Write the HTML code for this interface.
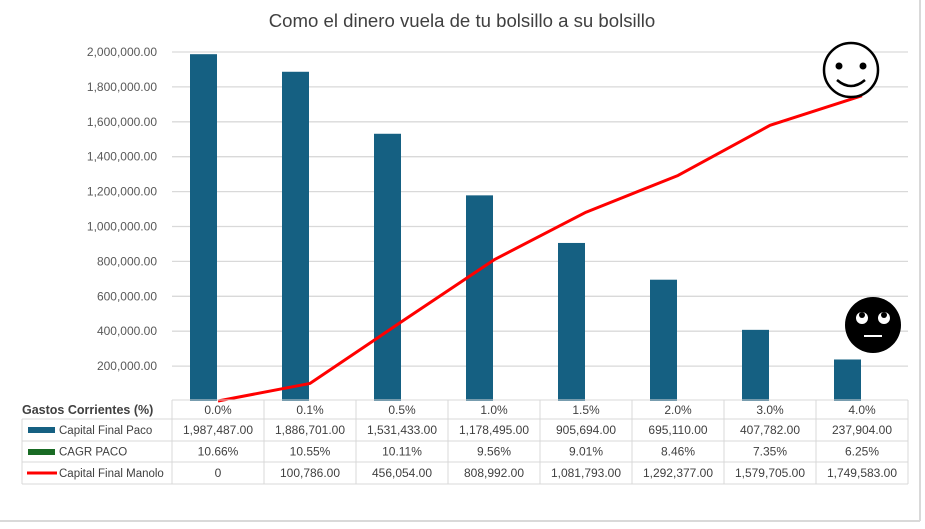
<!DOCTYPE html>
<html><head><meta charset="utf-8"><style>
body{margin:0;background:#fff;font-family:"Liberation Sans",sans-serif}
svg text{font-family:"Liberation Sans",sans-serif}
</style></head><body>
<svg id="c" width="925" height="524" xmlns="http://www.w3.org/2000/svg">
<rect x="0" y="0" width="925" height="524" fill="#fff"/>
<line x1="920" y1="0" x2="920" y2="521" stroke="#d9d9d9" stroke-width="2"/>
<line x1="0" y1="521" x2="920" y2="521" stroke="#d9d9d9" stroke-width="2"/>
<text x="462" y="27" text-anchor="middle" font-size="18.6" fill="#404040">Como el dinero vuela de tu bolsillo a su bolsillo</text>
<g id="grid"></g><g id="bars"></g><g id="line"></g><g id="table"></g>
<g>
<circle cx="851" cy="70" r="27" fill="#fff" stroke="#000" stroke-width="2.5"/>
<circle cx="839" cy="66" r="3.5" fill="#000"/><circle cx="863" cy="66" r="3.5" fill="#000"/>
<path d="M837 80 Q851 92 865 80" fill="none" stroke="#000" stroke-width="2.5"/>
</g>
<g>
<circle cx="873" cy="325" r="28" fill="#000"/>
<circle cx="862" cy="318" r="6" fill="#fff"/><circle cx="884" cy="318" r="6" fill="#fff"/>
<circle cx="862" cy="315" r="3" fill="#000"/><circle cx="884" cy="315" r="3" fill="#000"/>
<line x1="864" y1="336" x2="882" y2="336" stroke="#fff" stroke-width="2"/>
</g>
</svg>
<script>
const categories=["0.0%","0.1%","0.5%","1.0%","1.5%","2.0%","3.0%","4.0%"];
const paco=[1987487,1886701,1531433,1178495,905694,695110,407782,237904];
const cagr=["10.66%","10.55%","10.11%","9.56%","9.01%","8.46%","7.35%","6.25%"];
const manolo=[0,100786,456054,808992,1081793,1292377,1579705,1749583];
const pacoLabels=["1,987,487.00","1,886,701.00","1,531,433.00","1,178,495.00","905,694.00","695,110.00","407,782.00","237,904.00"];
const manoloLabels=["0","100,786.00","456,054.00","808,992.00","1,081,793.00","1,292,377.00","1,579,705.00","1,749,583.00"];
const ticks=[200000,400000,600000,800000,1000000,1200000,1400000,1600000,1800000,2000000];
const NS="http://www.w3.org/2000/svg";
const x0=172,cw=92,yZero=401,yTop=52,vMax=2000000;
const y=v=>yZero-(v/vMax)*(yZero-yTop);
const xc=i=>x0+cw*i+cw/2;
function mk(tag,attrs,parent,txt){const e=document.createElementNS(NS,tag);for(const k in attrs)e.setAttribute(k,attrs[k]);if(txt!==undefined)e.textContent=txt;parent.appendChild(e);return e;}
const fmt=v=>v.toLocaleString('en-US',{minimumFractionDigits:2});
const g=document.getElementById('grid');
ticks.forEach(t=>{
 const l=mk('line',{x1:x0,x2:908,y1:y(t),y2:y(t),stroke:'#d9d9d9','stroke-width':1.3},g);
 
 
 const tx=mk('text',{x:157,y:y(t)+4,'text-anchor':'end','font-size':12,fill:'#595959'},g,fmt(t));
 
 
});
const b=document.getElementById('bars');
paco.forEach((v,i)=>{
 const r=mk('rect',{x:xc(i)-28,y:y(v),width:27,height:yZero-y(v),fill:'#156082'},b);
 
 
});
const ln=document.getElementById('line');
const p=mk('polyline',{points:manolo.map((v,i)=>xc(i)+','+y(v)).join(' '),fill:'none',stroke:'#ff0000','stroke-width':3,'stroke-linejoin':'round'},ln);


const t=document.getElementById('table');
const rows=[400,419,441,462,484];
const bc='#d9d9d9';
mk('text',{x:22,y:414,'font-size':12.5,'font-weight':'bold',fill:'#404040'},t,'Gastos Corrientes (%)');
for(let i=0;i<=8;i++){mk('line',{x1:x0+cw*i,x2:x0+cw*i,y1:400,y2:484,stroke:bc},t);}
mk('line',{x1:22,x2:22,y1:419,y2:484,stroke:bc},t);
mk('line',{x1:x0,x2:908,y1:400,y2:400,stroke:bc},t);
for(let r=1;r<5;r++)mk('line',{x1:22,x2:908,y1:rows[r],y2:rows[r],stroke:bc},t);
categories.forEach((c,i)=>{const e=mk('text',{x:xc(i),y:414,'text-anchor':'middle','font-size':12,fill:'#404040'},t,c);
 
 });
const data=[pacoLabels,cagr,manoloLabels];
const names=["Capital Final Paco","CAGR PACO","Capital Final Manolo"];
data.forEach((arr,r)=>{
 const cy=(rows[r+1]+rows[r+2])/2;
 arr.forEach((s,i)=>{const e=mk('text',{x:xc(i),y:cy+4,'text-anchor':'middle','font-size':12,fill:'#404040'},t,s);
  
  });
 const e=mk('text',{x:59,y:cy+4,'font-size':11.5,fill:'#404040'},t,names[r]);
 
 
});
mk('rect',{x:28,y:427,width:27,height:6,fill:'#156082'},t);
mk('rect',{x:28,y:449,width:27,height:6,fill:'#196b24'},t);
mk('line',{x1:27,x2:57,y1:473,y2:473,stroke:'#ff0000','stroke-width':3},t);
</script>
</body></html>
